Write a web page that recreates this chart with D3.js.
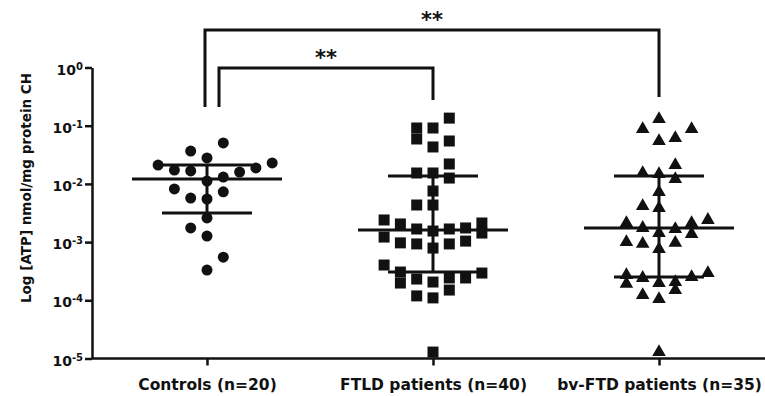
<!DOCTYPE html>
<html>
<head>
<meta charset="utf-8">
<script src="https://cdnjs.cloudflare.com/ajax/libs/d3/7.8.5/d3.min.js"></script>
<style>
  body { margin: 0; background: #fff; }
  svg { display: block; }
  text { font-family: "DejaVu Sans", sans-serif; font-weight: bold; fill: #111; }
</style>
</head>
<body>
<div id="plot_area"></div>
<script>
// categories
var groups = ["Controls (n=20)", "FTLD patients (n=40)", "bv-FTD patients (n=35)"]

// ATP values, with the swarm column each dot sits in
var controlsValues = [0.0505, 0.0367, 0.0279, 0.0211, 0.0173, 0.0167, 0.0160, 0.0188, 0.0229, 0.0112,
                      0.0131, 0.0082, 0.0073, 0.0057, 0.0055, 0.0026, 0.00175, 0.00127, 0.00055, 0.00033]
var controlsSlots  = [1, -1, 0, -3, -2, -1, 2, 3, 4, 0,
                      1, -2, 1, -1, 0, 0, -1, 0, 1, 0]

var ftldValues = [0.135, 0.0913, 0.0591, 0.0913, 0.0431, 0.0546, 0.0220, 0.0154, 0.0154, 0.0126,
                  0.00755, 0.00434, 0.00434, 0.00240, 0.00122, 0.00205, 0.00097, 0.00168, 0.00093, 0.00155,
                  0.00079, 0.00168, 0.00093, 0.00175, 0.00104, 0.00213, 0.00143, 0.000404, 0.000306, 0.000198,
                  0.000232, 0.000119, 0.000206, 0.000110, 0.000242, 0.000150, 0.000242, 0.000294, 0.0000129]
var ftldSlots  = [1, -1, -1, 0, 0, 1, 1, -1, 0, 1,
                  0, -1, 0, -3, -3, -2, -2, -1, -1, 0,
                  0, 1, 1, 2, 2, 3, 3, -3, -2, -2,
                  -1, -1, 0, 0, 1, 1, 2, 3, 0]

var bvftdValues = [0.130, 0.0878, 0.0878, 0.0546, 0.0615, 0.0211, 0.0154, 0.0148, 0.0121, 0.00726,
                   0.00417, 0.00385, 0.00213, 0.00175, 0.00143, 0.00168, 0.00213, 0.00138, 0.00240, 0.00100,
                   0.00093, 0.00097, 0.00076, 0.000294, 0.000272, 0.000191, 0.000242, 0.000198, 0.000206, 0.000150,
                   0.000251, 0.000123, 0.000105, 0.0000129]
var bvftdSlots  = [0, -1, 2, 0, 1, 1, -1, 0, 1, 0,
                   -1, 0, -2, -1, 0, 1, 2, 2, 3, -2,
                   -1, 1, 0, 3, -2, -2, -1, 0, 1, 1,
                   2, -1, 0, 0]

// median and interquartile range per group
var medians        = [0.0121, 0.00161, 0.00175]
var upperQuartiles = [0.0211, 0.0137, 0.0137]
var lowerQuartiles = [0.00316, 0.000306, 0.000251]

var yTicks = [1, 1e-1, 1e-2, 1e-3, 1e-4, 1e-5]
var yTitle = "Log [ATP] nmol/mg protein CH"

// significance brackets: group pairs and label
var compareFrom = [0, 0]
var compareTo   = [1, 2]
var compareText = ["**", "**"]

var width = 765, height = 396
var margin = {left: 92, top: 67.5, bottom: 358.5}

var Svg = d3.select("#plot_area")
  .append("svg")
    .attr("width", width)
    .attr("height", height)

var x = d3.scalePoint()
  .domain(groups)
  .range([94, 772])
  .padding(0.5)

var y = d3.scaleLog()
  .domain([1e-5, 1])
  .range([margin.bottom, margin.top])

var slot = d3.scaleLinear().domain([0, 1]).range([0, 16.3])

// Y axis
var yAxis = Svg.append("g")
  .attr("transform", "translate(" + margin.left + ",0)")
  .call(d3.axisLeft(y).tickValues(yTicks).tickSize(7).tickSizeOuter(0).tickFormat(""))
yAxis.selectAll("path, line").attr("stroke", "#111").attr("stroke-width", 2.5)

yAxis.selectAll(".tick").append("text")
  .attr("x", -9)
  .attr("y", 6.5)
  .attr("text-anchor", "end")
  .attr("font-size", 14)
  .attr("fill", "#111")
  .each(function(d) {
    var t = d3.select(this)
    t.append("tspan").text("10")
    t.append("tspan").attr("font-size", 10).attr("dy", -5).text(Math.round(Math.log10(d)))
  })

// X axis
var xAxis = Svg.append("g")
  .attr("transform", "translate(0," + margin.bottom + ")")
  .call(d3.axisBottom(x).tickSize(7).tickSizeOuter(0))
xAxis.select(".domain").remove()
xAxis.append("line")
  .attr("x1", margin.left).attr("x2", width)
  .attr("stroke", "#111").attr("stroke-width", 2.5)
xAxis.selectAll(".tick line").attr("stroke", "#111").attr("stroke-width", 2.5)
xAxis.selectAll(".tick text")
  .attr("y", 31)
  .attr("dy", 0)
  .attr("font-size", 15.5)
  .attr("font-family", "DejaVu Sans, sans-serif")
  .attr("fill", "#111")

Svg.append("text")
  .attr("transform", "translate(26,188) rotate(-90)")
  .attr("text-anchor", "middle")
  .attr("dy", "0.35em")
  .attr("font-size", 13.5)
  .text(yTitle)

// points
var seriesValues = [controlsValues, ftldValues, bvftdValues]
var seriesSlots = [controlsSlots, ftldSlots, bvftdSlots]
var points = []
seriesValues.forEach(function(vals, g) {
  vals.forEach(function(v, i) {
    points.push({group: groups[g], g: g, value: v, slot: seriesSlots[g][i]})
  })
})

var shapes = [d3.symbolCircle, d3.symbolSquare, d3.symbolTriangle]
var sizes = [95, 121, 80]

Svg.selectAll(".dot")
  .data(points)
  .enter()
  .append("path")
    .attr("class", "dot")
    .attr("d", function(d) { return d3.symbol().type(shapes[d.g]).size(sizes[d.g])() })
    .attr("transform", function(d) {
      return "translate(" + (x(d.group) + slot(d.slot)) + "," + y(d.value) + ")"
    })
    .attr("fill", "#111")

// median with interquartile range
var summary = Svg.append("g").attr("stroke", "#111").attr("stroke-width", 3)
groups.forEach(function(grp, i) {
  var cx = x(grp)
  summary.append("line")
    .attr("x1", cx - 75).attr("x2", cx + 75)
    .attr("y1", y(medians[i])).attr("y2", y(medians[i]))
  summary.append("line")
    .attr("x1", cx - 45).attr("x2", cx + 45)
    .attr("y1", y(upperQuartiles[i])).attr("y2", y(upperQuartiles[i]))
  summary.append("line")
    .attr("x1", cx - 45).attr("x2", cx + 45)
    .attr("y1", y(lowerQuartiles[i])).attr("y2", y(lowerQuartiles[i]))
  summary.append("line")
    .attr("x1", cx).attr("x2", cx)
    .attr("y1", y(upperQuartiles[i])).attr("y2", y(lowerQuartiles[i]))
})

// significance brackets
var bracketTop = [68, 30]
var bracketLeftOff = [12, -2]
var bracketRightDrop = [32, 67]
var brackets = Svg.append("g")
compareFrom.forEach(function(f, i) {
  var x1 = x(groups[f]) + bracketLeftOff[i]
  var x2 = x(groups[compareTo[i]])
  var yt = bracketTop[i]
  brackets.append("path")
    .attr("d", "M" + x1 + ",107V" + yt + "H" + x2 + "V" + (yt + bracketRightDrop[i]))
    .attr("fill", "none")
    .attr("stroke", "#111")
    .attr("stroke-width", 3)
  brackets.append("text")
    .attr("x", (x1 + x2) / 2)
    .attr("y", yt - 3)
    .attr("text-anchor", "middle")
    .attr("font-size", 21)
    .text(compareText[i])
})
</script>
</body>
</html>
